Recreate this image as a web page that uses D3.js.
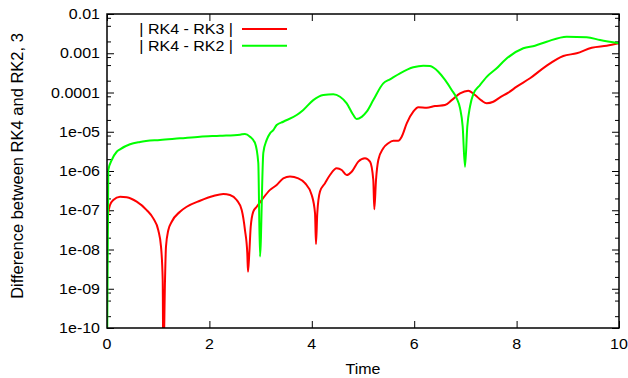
<!DOCTYPE html>
<html><head><meta charset="utf-8">
<script src="https://cdn.jsdelivr.net/npm/d3@7"></script>
<style>body{margin:0;background:#fff}svg{display:block}text{font-family:"Liberation Sans",Arial,sans-serif;fill:#000}</style>
</head><body><svg id="c" width="628" height="378"></svg>
<script>
const xTicks = [0, 2, 4, 6, 8, 10];
const xTickLabels = ["0", "2", "4", "6", "8", "10"];
const yTicks = [1e-10, 1e-9, 1e-8, 1e-7, 1e-6, 1e-5, 1e-4, 1e-3, 1e-2];
const yTickLabels = ["1e-10", "1e-09", "1e-08", "1e-07", "1e-06", "1e-05", "0.0001", "0.001", "0.01"];
const seriesNames = ["| RK4 - RK3 |", "| RK4 - RK2 |"];

const redT = [0, 0.02, 0.059, 0.123, 0.254, 0.385, 0.58, 0.775, 0.904, 1.002, 1.055, 1.088, 1.10, 1.133, 1.152, 1.197, 1.264, 1.426, 1.557, 1.816, 2.076, 2.271, 2.402, 2.533, 2.631, 2.695, 2.74, 2.754, 2.779, 2.807, 2.857, 2.924, 3.021, 3.184, 3.314, 3.443, 3.574, 3.736, 3.867, 3.998, 4.063, 4.082, 4.107, 4.16, 4.258, 4.355, 4.486, 4.584, 4.682, 4.779, 4.908, 5.039, 5.137, 5.201, 5.221, 5.254, 5.299, 5.396, 5.494, 5.592, 5.689, 5.756, 5.854, 5.982, 6.08, 6.244, 6.406, 6.602, 6.732, 6.895, 7.057, 7.188, 7.318, 7.416, 7.545, 7.676, 7.838, 8.002, 8.262, 8.555, 8.912, 9.174, 9.467, 9.76, 10];
const redV = [2.3e-8, 7.6e-8, 1.36e-7, 1.82e-7, 2.21e-7, 2.14e-7, 1.65e-7, 1.01e-7, 6.2e-8, 3.1e-8, 1.18e-8, 1.67e-9, 1e-11, 1.67e-9, 1.18e-8, 3.1e-8, 5.1e-8, 9.2e-8, 1.23e-7, 1.75e-7, 2.31e-7, 2.6e-7, 2.45e-7, 1.82e-7, 1.01e-7, 3.1e-8, 8.0e-9, 2.7e-9, 8.0e-9, 3.8e-8, 9.2e-8, 1.23e-7, 1.82e-7, 3.3e-7, 4.4e-7, 6.5e-7, 7.2e-7, 6.5e-7, 4.9e-7, 2.45e-7, 8.4e-8, 1.38e-8, 8.4e-8, 3.0e-7, 4.9e-7, 7.9e-7, 1.17e-6, 1.06e-6, 7.9e-7, 9.6e-7, 1.73e-6, 2.11e-6, 1.73e-6, 5.9e-7, 1.06e-7, 5.9e-7, 1.9e-6, 3.8e-6, 5.1e-6, 5.9e-6, 5.9e-6, 7.5e-6, 1.64e-5, 3.24e-5, 4.2e-5, 4.1e-5, 4.5e-5, 4.8e-5, 6.4e-5, 9.5e-5, 1.11e-4, 8.6e-5, 6.2e-5, 5.3e-5, 5.8e-5, 7.5e-5, 9.9e-5, 1.41e-4, 2.3e-4, 4.5e-4, 8.5e-4, 1.0e-3, 1.38e-3, 1.56e-3, 1.8e-3];

const greenT = [0, 0.025, 0.092, 0.19, 0.254, 0.449, 0.645, 1.035, 1.426, 1.816, 2.207, 2.598, 2.695, 2.793, 2.89, 2.955, 2.988, 3.053, 3.119, 3.184, 3.248, 3.314, 3.443, 3.705, 3.834, 4.029, 4.225, 4.42, 4.551, 4.682, 4.811, 4.877, 4.975, 5.072, 5.201, 5.396, 5.527, 5.723, 5.982, 6.178, 6.309, 6.471, 6.602, 6.732, 6.83, 6.895, 6.947, 6.992, 7.037, 7.09, 7.154, 7.285, 7.416, 7.611, 7.773, 8.131, 8.359, 8.588, 8.979, 9.369, 9.629, 10];
const greenV = [1e-11, 1.06e-6, 1.9e-6, 3.1e-6, 3.57e-6, 4.8e-6, 5.5e-6, 6.2e-6, 6.8e-6, 7.5e-6, 7.9e-6, 8.4e-6, 8.8e-6, 7.5e-6, 5.2e-6, 1.6e-6, 6.6e-9, 2.9e-6, 6.2e-6, 9.1e-6, 1.1e-5, 1.49e-5, 1.8e-5, 2.67e-5, 3.6e-5, 6.4e-5, 8.6e-5, 9.0e-5, 7.8e-5, 5.3e-5, 2.67e-5, 2.1e-5, 2.4e-5, 3.24e-5, 6.4e-5, 1.71e-4, 2.17e-4, 3.09e-4, 4.39e-4, 4.82e-4, 4.73e-4, 3.39e-4, 2.09e-4, 1.16e-4, 7.1e-5, 4.0e-5, 1.35e-5, 1.28e-6, 1.35e-5, 4.4e-5, 9.1e-5, 1.55e-4, 2.5e-4, 4.14e-4, 6.76e-4, 1.34e-3, 1.56e-3, 1.97e-3, 2.64e-3, 2.55e-3, 2.18e-3, 1.8e-3];

const W = 628, H = 378;
const L = 107, R = 619, T = 14, B = 328;
const svg = d3.select("#c");
const x = d3.scaleLinear().domain([0, 10]).range([L, R]);
const y = d3.scaleLog().domain([1e-10, 1e-2]).range([B, T]);
const SQ = 0.88;

// minor ticks
const yMinor = [];
yTicks.slice(0, -1).forEach(d => [2, 5, 8].forEach(m => yMinor.push(d * m)));

const gA = svg.append("g");
function styleAxis(g){ g.select(".domain").remove(); g.selectAll("line").attr("stroke", "#000").attr("stroke-width", 1); g.selectAll("text").remove(); }
gA.append("g").attr("transform", `translate(0,${B})`).call(d3.axisBottom(x).tickValues(xTicks).tickSize(-7)).call(styleAxis);
gA.append("g").attr("transform", `translate(0,${T})`).call(d3.axisTop(x).tickValues(xTicks).tickSize(-7)).call(styleAxis);
gA.append("g").attr("transform", `translate(${L},0)`).call(d3.axisLeft(y).tickValues(yTicks).tickSize(-7)).call(styleAxis);
gA.append("g").attr("transform", `translate(${R},0)`).call(d3.axisRight(y).tickValues(yTicks).tickSize(-7)).call(styleAxis);
gA.append("g").attr("transform", `translate(${L},0)`).call(d3.axisLeft(y).tickValues(yMinor).tickSize(-4)).call(styleAxis);
gA.append("g").attr("transform", `translate(${R},0)`).call(d3.axisRight(y).tickValues(yMinor).tickSize(-4)).call(styleAxis);

// tick labels
xTicks.forEach((d, i) => svg.append("text").attr("transform", `translate(${x(d)},${B + 21}) scale(1,${SQ})`)
  .attr("text-anchor", "middle").attr("font-size", 16).text(xTickLabels[i]));
yTicks.forEach((d, i) => svg.append("text").attr("transform", `translate(${L - 7},${y(d) + 5}) scale(1,${SQ})`)
  .attr("text-anchor", "end").attr("font-size", 16).text(yTickLabels[i]));

// axis titles
svg.append("text").attr("transform", `translate(${(L + R) / 2},${H - 4}) scale(1,${SQ})`).attr("text-anchor", "middle").attr("font-size", 16).text("Time");
svg.append("text").attr("transform", `translate(23,166) rotate(-90)`).attr("text-anchor", "middle").attr("font-size", 16.5).text("Difference between RK4 and RK2, 3");

// clip
svg.append("clipPath").attr("id", "clip").append("rect").attr("x", L).attr("y", T).attr("width", R - L).attr("height", B - T);

const line = d3.line().x(d => x(d[0])).y(d => y(d[1])).curve(d3.curveMonotoneX);
const series = [
  {t: redT, v: redV, color: "#ff0000"},
  {t: greenT, v: greenV, color: "#00ff00"}
];
const gL = svg.append("g").attr("clip-path", "url(#clip)");
series.forEach(s => {
  gL.append("path").datum(s.t.map((t, i) => [t, s.v[i]])).attr("d", line)
    .attr("fill", "none").attr("stroke", s.color).attr("stroke-width", 2).attr("stroke-linejoin", "round");
});

// border
svg.append("rect").attr("x", L).attr("y", T).attr("width", R - L).attr("height", B - T)
  .attr("fill", "none").attr("stroke", "#000").attr("stroke-width", 1.5);

// legend
seriesNames.forEach((n, i) => {
  const yy = 29 + i * 16.7;
  svg.append("text").attr("transform", `translate(233,${yy + 5}) scale(1,${SQ})`).attr("text-anchor", "end").attr("font-size", 16).text(n);
  svg.append("line").attr("x1", 242).attr("x2", 287).attr("y1", yy).attr("y2", yy).attr("stroke", series[i].color).attr("stroke-width", 2);
});
</script></body></html>
